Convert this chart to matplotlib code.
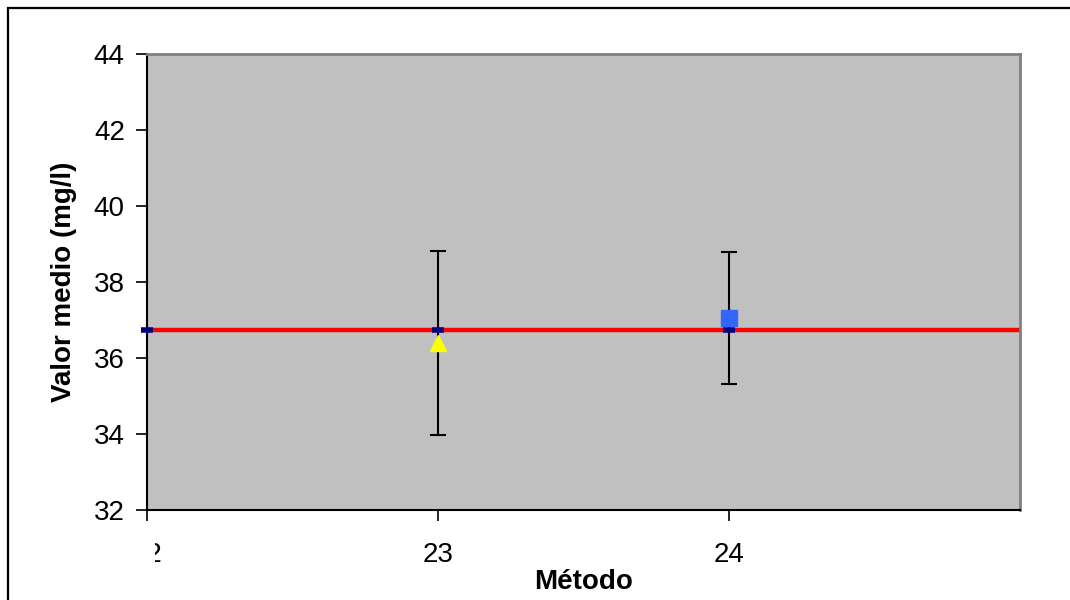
import matplotlib.pyplot as plt
from matplotlib.patches import Rectangle
from matplotlib.transforms import Bbox

plt.rcParams['font.family'] = ['Liberation Sans', 'DejaVu Sans']

# reference value across all methods
ref_x = [22, 25]
ref_val = 36.75
mean_x = [22, 23, 24]

# method results with their uncertainty
met_a_x = [23]
met_a_y = [36.4]
met_a_err = [2.42]
met_b_x = [24]
met_b_y = [37.05]
met_b_err = [1.74]

xticks = [22, 23, 24]
xtick_labels = ['22', '23', '24']
yticks = [32, 34, 36, 38, 40, 42, 44]

fig = plt.figure(figsize=(10.7, 6), dpi=100)
ax = fig.add_axes([147 / 1070, 90 / 600, 873 / 1070, 456 / 600])
ax.set_facecolor('#C0C0C0')

# outer frame of the chart area
fig.patches.append(Rectangle((8 / 1070, -0.1), 1.2, (600 - 8) / 600 + 0.1,
                             transform=fig.transFigure, fill=False,
                             edgecolor='black', linewidth=1.6, clip_on=False))

ax.plot(ref_x, [ref_val, ref_val], color='#FF0000', linewidth=3.2, zorder=2,
        clip_on=False, solid_capstyle='butt')

ax.errorbar(met_a_x, met_a_y, yerr=met_a_err, fmt='none', ecolor='black',
            elinewidth=1.5, capsize=6, capthick=1.5, zorder=3)
ax.errorbar(met_b_x, met_b_y, yerr=met_b_err, fmt='none', ecolor='black',
            elinewidth=1.5, capsize=6, capthick=1.5, zorder=3)

ax.plot(mean_x, [ref_val] * len(mean_x), linestyle='none', marker='_',
        markersize=8, markeredgewidth=4, color='#000080', zorder=4,
        clip_on=False)

ax.plot(met_a_x, met_a_y, linestyle='none', marker='^', markersize=12,
        color='#FFFF00', zorder=5)
ax.plot(met_b_x, met_b_y, linestyle='none', marker='s', markersize=11,
        color='#3366FF', zorder=5)

ax.set_xlim(22, 25)
ax.set_ylim(32, 44)
ax.set_yticks(yticks)
ax.set_xticks(xticks)
ax.set_xticklabels(xtick_labels)
ax.tick_params(axis='both', direction='out', length=8, width=1.2,
               labelsize=20, colors='black')
ax.tick_params(axis='y', pad=8)
ax.tick_params(axis='x', pad=15)

for side in ['left', 'bottom']:
    ax.spines[side].set_color('black')
    ax.spines[side].set_linewidth(1.5)
for side in ['top', 'right']:
    ax.spines[side].set_color('#808080')
    ax.spines[side].set_linewidth(2)

ax.set_ylabel('Valor medio (mg/l)', fontsize=20, fontweight='bold', labelpad=12)
ax.set_xlabel('Método', fontsize=20, fontweight='bold', labelpad=1)

# the first category label is cut off by the chart edge
fig.canvas.draw()
first = ax.get_xticklabels()[0]
first.set_clip_box(Bbox.from_extents(155, 0, 1070, 600))
first.set_clip_on(True)

fig.savefig('out.png', dpi=100)
